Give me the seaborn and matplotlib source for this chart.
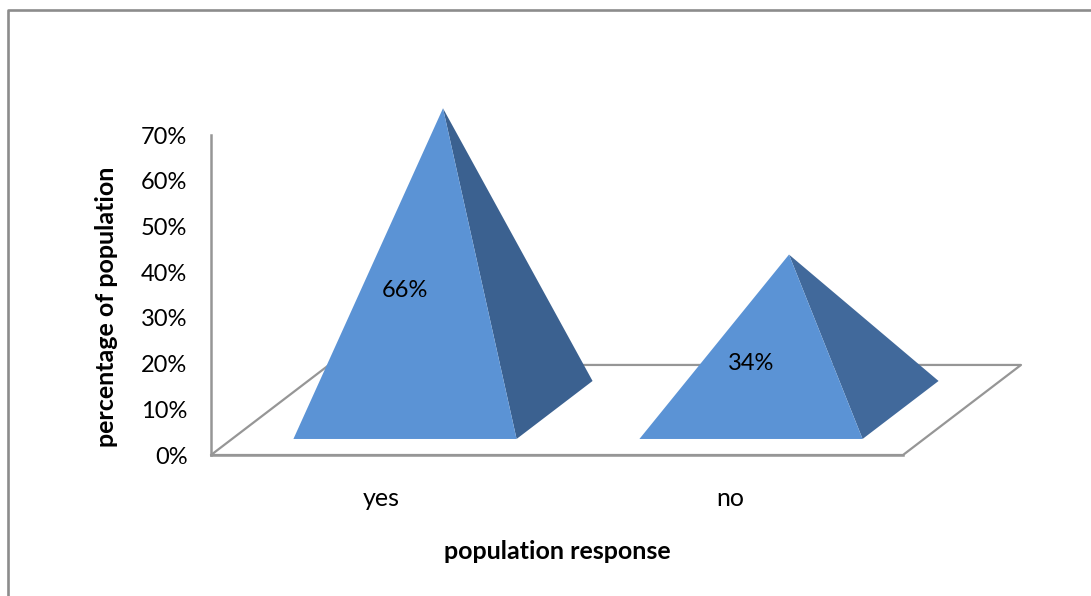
import matplotlib
matplotlib.use("Agg")
import matplotlib.pyplot as plt
from matplotlib.lines import Line2D
from matplotlib.transforms import ScaledTranslation
import numpy as np
import pandas as pd
import seaborn as sns

# Survey results
responses = ["yes", "no"]
shares = [66, 34]
share_labels = ["66%", "34%"]
percent_ticks = [0, 10, 20, 30, 40, 50, 60, 70]
percent_tick_labels = ["0%", "10%", "20%", "30%", "40%", "50%", "60%", "70%"]

FRONT_COLOR = "#5B93D5"
SIDE_COLORS = ["#3B6190", "#41699B"]
EDGE_COLOR = "#969696"
FONT = "Lato"

# Oblique projection of the floor: depth adds this much to x and y in data units
DEPTH_X = 0.341
DEPTH_Y = 19.7
BASE_NEAR = 0.178
BASE_FAR = 0.822
BASE_WIDTH = 0.645
AXIS_TOP = 70

WIDTH, HEIGHT = 1091, 596
PX_PER_CATEGORY = 346.0
PX_PER_PERCENT = 4.571
LEFT_PX, ZERO_PX = 211.0, 455.0

sns.set_theme(style="white")
plt.rcParams["font.family"] = [FONT, "DejaVu Sans"]

fig = plt.figure(figsize=(WIDTH / 100, HEIGHT / 100), dpi=100, facecolor="white")
ax = fig.add_axes([0, 0, 1, 1], facecolor="none")
ax.set_xlim(-0.5 - LEFT_PX / PX_PER_CATEGORY, -0.5 + (WIDTH - LEFT_PX) / PX_PER_CATEGORY)
ax.set_ylim(-(HEIGHT - ZERO_PX) / PX_PER_PERCENT, ZERO_PX / PX_PER_PERCENT)

# Floor parallelogram, drawn as a single open outline behind the pyramids
floor = pd.DataFrame({
    "x": [-0.5, -0.5 + DEPTH_X, 1.5 + DEPTH_X, 1.5, -0.5],
    "y": [0, DEPTH_Y, DEPTH_Y, 0, 0],
})
sns.lineplot(data=floor, x="x", y="y", sort=False, estimator=None,
             color=EDGE_COLOR, linewidth=1.6, ax=ax, zorder=1)

# Pyramids: a lit front face and a shaded right face meeting at the apex
for i, (value, text) in enumerate(zip(shares, share_labels)):
    left = i - BASE_WIDTH / 2 + BASE_NEAR * DEPTH_X
    right = left + BASE_WIDTH
    near_y = BASE_NEAR * DEPTH_Y
    far_y = BASE_FAR * DEPTH_Y
    far_right = right + (BASE_FAR - BASE_NEAR) * DEPTH_X
    apex_x = (left + far_right) / 2
    apex_y = (near_y + far_y) / 2 + value
    ax.fill([right, far_right, apex_x], [near_y, far_y, apex_y],
            color=SIDE_COLORS[i], linewidth=0, zorder=2)
    ax.fill([left, right, apex_x], [near_y, near_y, apex_y],
            color=FRONT_COLOR, linewidth=0, zorder=3)
    ax.text((left + right) / 2, near_y + value / 2, text, ha="center", va="center_baseline",
            fontsize=17, color="black", zorder=4)

# Axes
for side in ("top", "right"):
    ax.spines[side].set_visible(False)
ax.spines["left"].set_position(("data", -0.5))
ax.spines["left"].set_bounds(0, AXIS_TOP)
ax.spines["bottom"].set_position(("data", 0))
ax.spines["bottom"].set_bounds(-0.5, 1.5)
for side in ("left", "bottom"):
    ax.spines[side].set_color(EDGE_COLOR)
    ax.spines[side].set_linewidth(1.8)

ax.set_yticks(percent_ticks, percent_tick_labels)
ax.set_xticks(range(len(responses)), responses)
ax.tick_params(axis="y", length=0, pad=17, labelsize=17, labelcolor="black")
ax.tick_params(axis="x", length=0, pad=23, labelsize=18, labelcolor="black")
for label in ax.get_yticklabels():
    label.set_verticalalignment("center_baseline")

# Nudge the first category label slightly to the left of its tick
first_label = ax.get_xticklabels()[0]
first_label.set_transform(first_label.get_transform()
                          + ScaledTranslation(-3 / 100, 0, fig.dpi_scale_trans))

ax.set_xlabel("")
ax.set_ylabel("")
ax.text(0.5105, 0.0755, "population response", transform=ax.transAxes, ha="center", va="center",
        fontsize=18, fontweight="bold", color="black")
ax.text(0.098, 0.485, "percentage of population", transform=ax.transAxes, ha="center", va="center",
        rotation=90, fontsize=18, fontweight="bold", color="black")

# Outer chart frame, cropped on the right and at the bottom
frame_x = [8 / WIDTH, 8 / WIDTH, 1]
frame_y = [0, 1 - 10 / HEIGHT, 1 - 10 / HEIGHT]
fig.add_artist(Line2D(frame_x, frame_y, color="#8C8C8C", linewidth=1.9,
                      transform=fig.transFigure))

fig.savefig("out.png", dpi=100)
